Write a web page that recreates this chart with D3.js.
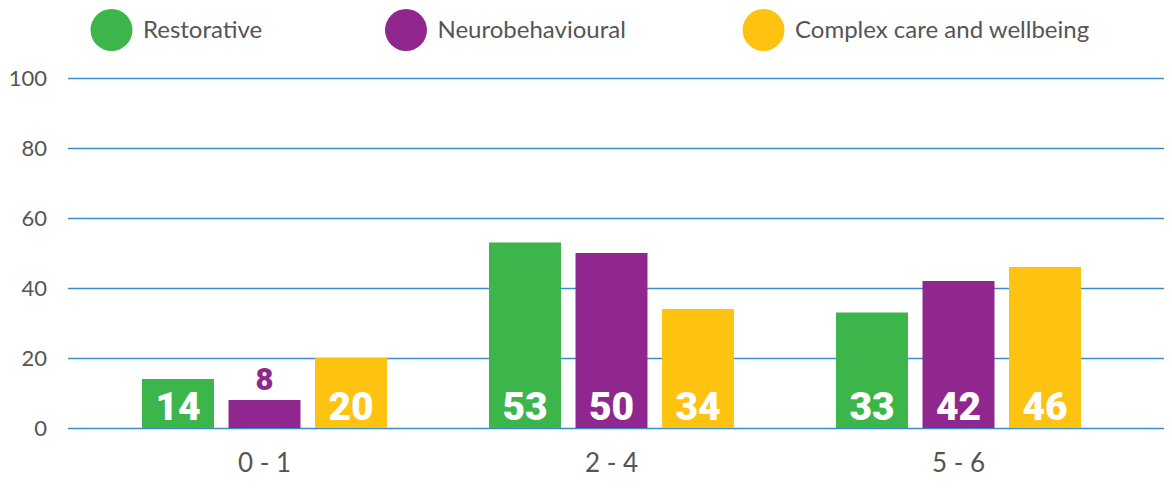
<!DOCTYPE html>
<meta charset="utf-8">
<style>
body { margin: 0; background: #fff; }
svg { display: block; }
.tick text { font-family: Lato, "Open Sans", sans-serif; fill: #555; }
</style>
<svg width="1172" height="489"></svg>
<script src="https://cdn.jsdelivr.net/npm/d3@7"></script>
<script>
'use strict';

const ageGroups = ["0 - 1", "2 - 4", "5 - 6"],
      seriesNames = ["Restorative", "Neurobehavioural", "Complex care and wellbeing"],
      seriesColors = ["#3cb54a", "#90278e", "#fec210"],
      restorative = [14, 53, 33],
      neurobehavioural = [8, 50, 42],
      complexCare = [20, 34, 46],
      yTicks = [0, 20, 40, 60, 80, 100];

const values = [restorative, neurobehavioural, complexCare];
const rows = ageGroups.map((g, i) => ({
  group: g,
  bars: seriesNames.map((s, j) => ({series: s, idx: j, value: values[j][i]}))
}));

const svg = d3.select("svg");

const y = d3.scaleLinear().domain([0, 100]).range([428, 78]);
const x0 = d3.scaleBand().domain(ageGroups).range([91, 1132]);
const x1 = d3.scaleBand().domain(seriesNames)
    .range([51, x0.bandwidth() - 51])
    .paddingInner(0.168);

// gridlines
svg.append("g")
    .attr("class", "grid")
    .call(d3.axisLeft(y).tickValues(yTicks).tickSize(0).tickPadding(0).tickFormat(""))
    .call(g => g.select(".domain").remove())
    .selectAll(".tick").append("line")
    .attr("x1", 68).attr("x2", 1164)
    .attr("stroke", "#3a8ccc").attr("stroke-width", 1.6);

// y labels
svg.append("g")
    .attr("transform", "translate(47,0)")
    .call(d3.axisLeft(y).tickValues(yTicks).tickSize(0).tickPadding(0))
    .call(g => g.select(".domain").remove())
    .selectAll("text").style("font-size", "22px");

// x labels
svg.append("g")
    .attr("transform", "translate(0,452)")
    .call(d3.axisBottom(x0).tickSize(0).tickPadding(0))
    .call(g => g.select(".domain").remove())
    .selectAll("text").style("font-size", "26px").attr("dy", "0.75em");

const groups = svg.append("g").selectAll("g")
  .data(rows)
  .join("g")
    .attr("transform", d => `translate(${x0(d.group)},0)`);

groups.selectAll("rect")
  .data(d => d.bars)
  .join("rect")
    .attr("x", d => x1(d.series))
    .attr("y", d => y(d.value))
    .attr("width", x1.bandwidth())
    .attr("height", d => y(0) - y(d.value))
    .attr("fill", d => seriesColors[d.idx]);

// short bars get their label above, in the bar colour
const isShort = d => y(0) - y(d.value) < 40;

groups.selectAll("text.val")
  .data(d => d.bars)
  .join("text")
    .attr("class", "val")
    .attr("x", d => x1(d.series) + x1.bandwidth() / 2)
    .attr("y", d => isShort(d) ? y(d.value) - 10 : y(0) - 8)
    .attr("text-anchor", "middle")
    .style("font-family", "Roboto, sans-serif")
    .style("font-weight", 900)
    .style("font-size", d => isShort(d) ? "31px" : "39px")
    .attr("fill", d => isShort(d) ? seriesColors[d.idx] : "#fff")
    .text(d => d.value);

// legend
const legendX = [111.5, 406, 763.5];
const legend = svg.append("g").selectAll("g")
  .data(seriesNames)
  .join("g")
    .attr("transform", (d, i) => `translate(${legendX[i]},30)`);

legend.append("circle")
    .attr("r", 21)
    .attr("fill", (d, i) => seriesColors[i]);

legend.append("text")
    .attr("x", 31.5)
    .attr("dy", "0.33em")
    .style("font-family", "Lato, sans-serif")
    .style("font-size", "24px")
    .attr("fill", "#555")
    .text(d => d);
</script>
